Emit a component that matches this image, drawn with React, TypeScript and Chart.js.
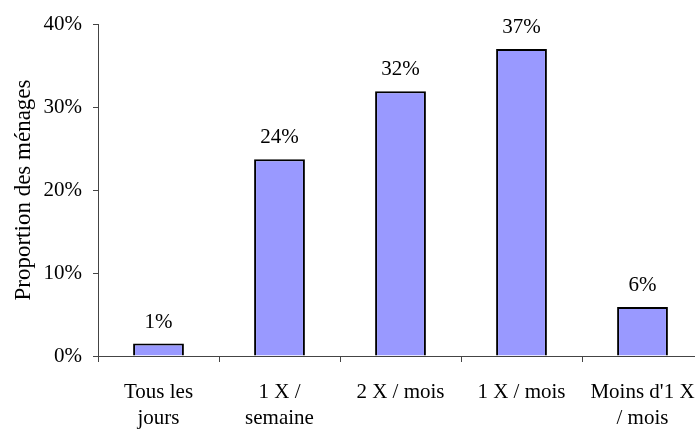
import React, { useEffect, useRef } from "react";
import { Chart, registerables } from "chart.js";

Chart.register(...registerables);

const categories: string[][] = [
  ["Tous les", "jours"],
  ["1 X /", "semaine"],
  ["2 X / mois"],
  ["1 X / mois"],
  ["Moins d'1 X", "/ mois"],
];
const values: number[] = [1.5, 23.7, 31.9, 37.0, 5.9];
const valueLabels: string[] = ["1%", "24%", "32%", "37%", "6%"];
const yTicks: number[] = [0, 10, 20, 30, 40];
const yTitle = "Proportion des ménages";

const FONT = "'Liberation Serif', 'Times New Roman', serif";

const valueLabelPlugin = {
  id: "valueLabels",
  afterDatasetsDraw(chart: any) {
    const ctx = chart.ctx;
    const meta = chart.getDatasetMeta(0);
    ctx.save();
    ctx.font = `21px ${FONT}`;
    ctx.fillStyle = "#000";
    ctx.textAlign = "center";
    ctx.textBaseline = "alphabetic";
    meta.data.forEach((bar: any, i: number) => {
      ctx.fillText(valueLabels[i], bar.x, bar.y - 16);
    });
    ctx.restore();
  },
};

export default function App() {
  const ref = useRef<HTMLCanvasElement | null>(null);

  useEffect(() => {
    if (!ref.current) return;
    const chart = new Chart(ref.current, {
      type: "bar",
      data: {
        labels: categories,
        datasets: [
          {
            data: values,
            backgroundColor: "#9999FF",
            borderColor: "#000000",
            borderWidth: 2,
            categoryPercentage: 1,
            barPercentage: 0.42,
          },
        ],
      },
      options: {
        responsive: false,
        animation: false,
        devicePixelRatio: 1,
        layout: { padding: { top: 24, right: 17, bottom: 0, left: 0 } },
        plugins: {
          legend: { display: false },
          tooltip: { enabled: false },
        },
        scales: {
          x: {
            grid: {
              drawOnChartArea: false,
              drawTicks: true,
              tickLength: 6,
              color: "#444",
              offset: true,
            },
            border: { display: true, color: "#444", width: 1 },
            ticks: {
              color: "#000",
              font: { family: FONT, size: 21, lineHeight: 1.24 },
              padding: 17,
              maxRotation: 0,
              autoSkip: false,
            },
            afterFit: (scale: any) => {
              scale.height = 76;
            },
          },
          y: {
            min: 0,
            max: 40,
            afterBuildTicks: (scale: any) => {
              scale.ticks = yTicks.map((v) => ({ value: v }));
            },
            grid: {
              drawOnChartArea: false,
              drawTicks: true,
              tickLength: 5,
              color: "#444",
            },
            border: { display: true, color: "#444", width: 1 },
            ticks: {
              color: "#000",
              font: { family: FONT, size: 21 },
              padding: 11,
              callback: (v: any) => `${v}%`,
            },
            title: {
              display: true,
              text: yTitle,
              color: "#000",
              font: { family: FONT, size: 23 },
              padding: { top: 10, bottom: 0 },
            },
            afterFit: (scale: any) => {
              scale.width = 98;
            },
          },
        },
      },
      plugins: [valueLabelPlugin],
    });
    return () => chart.destroy();
  }, []);

  return (
    <div
      style={{
        position: "fixed",
        left: 0,
        top: 0,
        width: 695,
        height: 432,
        overflow: "hidden",
        background: "#fff",
      }}
    >
      <canvas ref={ref} width={720} height={432} style={{ width: 720, height: 432 }} />
    </div>
  );
}
